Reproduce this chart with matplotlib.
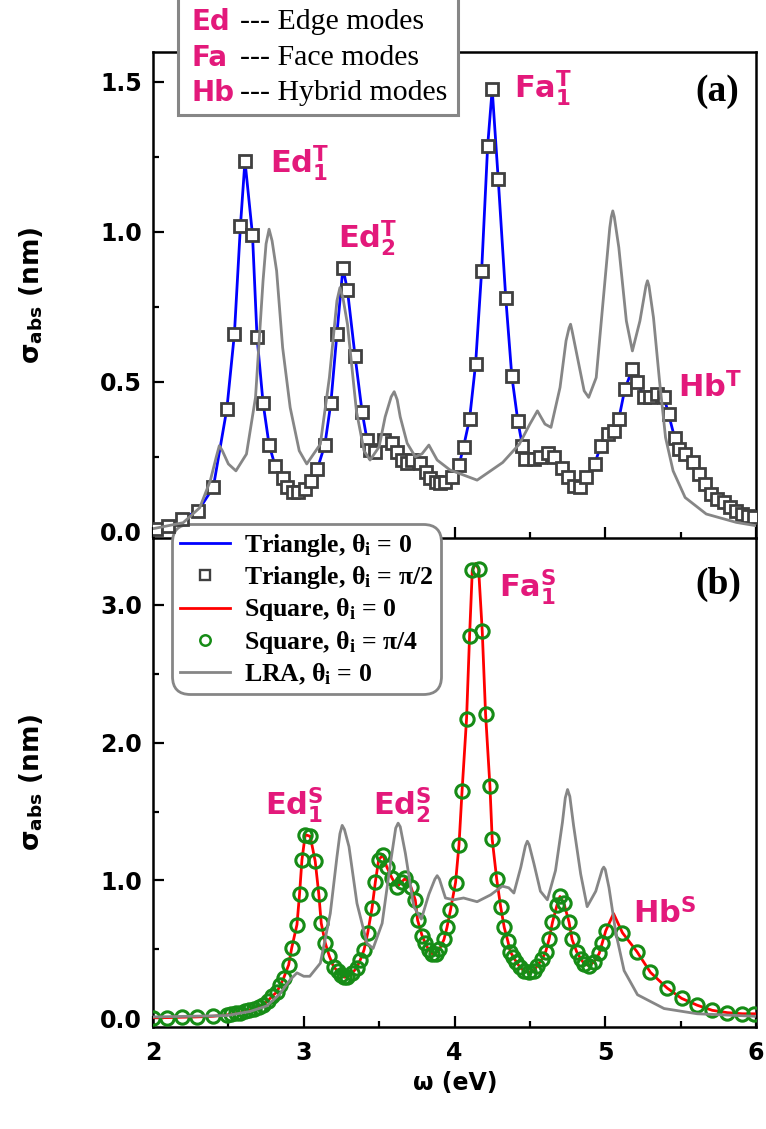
import numpy as np
import matplotlib
matplotlib.use('Agg')
import matplotlib.pyplot as plt
from matplotlib.patches import Rectangle
from matplotlib.lines import Line2D
from matplotlib.ticker import MultipleLocator, FormatStrFormatter

plt.rcParams['mathtext.fontset'] = 'custom'
plt.rcParams['mathtext.bf'] = 'DejaVu Sans:bold'
plt.rcParams['mathtext.rm'] = 'Liberation Serif:bold'
plt.rcParams['mathtext.it'] = 'Liberation Serif:italic'
plt.rcParams['mathtext.sf'] = 'DejaVu Sans'

# ---------------- Panel (a): triangle ----------------
tri_perp_x = [2.02, 2.10, 2.19, 2.30, 2.40, 2.49, 2.54, 2.58, 2.61, 2.66, 2.69, 2.73, 2.77, 2.81,
              2.86, 2.89, 2.93, 2.96, 3.01, 3.05, 3.09, 3.14, 3.18, 3.22, 3.26, 3.29, 3.34, 3.387,
              3.42, 3.44, 3.475, 3.53, 3.586, 3.62, 3.65, 3.686, 3.72, 3.774, 3.81, 3.84, 3.874,
              3.907, 3.94, 3.985, 4.03, 4.06, 4.10, 4.14, 4.18, 4.22, 4.25, 4.29, 4.34, 4.38, 4.42,
              4.45, 4.47, 4.53, 4.57, 4.62, 4.66, 4.71, 4.75, 4.79, 4.83, 4.87, 4.93, 4.97, 5.02,
              5.06, 5.09, 5.13, 5.18, 5.21, 5.26, 5.30, 5.34, 5.39, 5.42, 5.46, 5.49, 5.53, 5.58,
              5.62, 5.66, 5.70, 5.74, 5.79, 5.83, 5.87, 5.91, 5.95, 5.99]
tri_perp_y = [0.01, 0.02, 0.043, 0.07, 0.148, 0.41, 0.66, 1.02, 1.237, 0.99, 0.65, 0.43, 0.29, 0.22,
              0.18, 0.148, 0.131, 0.131, 0.142, 0.168, 0.209, 0.29, 0.43, 0.66, 0.88, 0.805, 0.587, 0.40,
              0.306, 0.272, 0.267, 0.306, 0.295, 0.267, 0.239, 0.228, 0.239, 0.228, 0.20, 0.178, 0.167,
              0.161, 0.167, 0.183, 0.222, 0.283, 0.376, 0.56, 0.87, 1.287, 1.476, 1.176, 0.78, 0.52, 0.37,
              0.287, 0.242, 0.242, 0.248, 0.264, 0.248, 0.214, 0.181, 0.153, 0.15, 0.181, 0.226, 0.287, 0.326,
              0.337, 0.376, 0.476, 0.542, 0.498, 0.448, 0.448, 0.459, 0.448, 0.392, 0.314, 0.276, 0.259, 0.231,
              0.192, 0.159, 0.126, 0.109, 0.098, 0.081, 0.07, 0.059, 0.053, 0.048]
# Triangle, theta = 0 (blue line) coincides with the squares
tri_zero_x = tri_perp_x
tri_zero_y = tri_perp_y

lra_a_x = [2.00, 2.20, 2.31, 2.38, 2.42, 2.44, 2.46, 2.50, 2.55, 2.62, 2.68, 2.73, 2.75, 2.77, 2.79,
           2.82, 2.86, 2.91, 2.97, 3.02, 3.11, 3.17, 3.22, 3.24, 3.26, 3.29, 3.35, 3.40, 3.44, 3.50,
           3.54, 3.58, 3.60, 3.62, 3.64, 3.686, 3.74, 3.785, 3.83, 3.885, 3.97, 4.06, 4.15, 4.32, 4.43,
           4.50, 4.55, 4.60, 4.64, 4.70, 4.74, 4.76, 4.77, 4.78, 4.82, 4.86, 4.89, 4.94, 4.98, 5.03,
           5.04, 5.05, 5.06, 5.09, 5.14, 5.18, 5.23, 5.27, 5.28, 5.29, 5.32, 5.36, 5.40, 5.45, 5.53,
           5.67, 5.87, 6.00]
lra_a_y = [0.01, 0.03, 0.08, 0.17, 0.25, 0.287, 0.27, 0.226, 0.203, 0.259, 0.448, 0.837, 0.96, 1.009, 0.97,
           0.87, 0.614, 0.414, 0.27, 0.226, 0.292, 0.514, 0.77, 0.814, 0.78, 0.692, 0.40, 0.27, 0.239, 0.283,
           0.383, 0.45, 0.467, 0.44, 0.383, 0.295, 0.25, 0.26, 0.289, 0.239, 0.206, 0.189, 0.172, 0.231, 0.292,
           0.359, 0.403, 0.359, 0.348, 0.481, 0.637, 0.68, 0.692, 0.67, 0.57, 0.47, 0.448, 0.514, 0.737, 1.014,
           1.05, 1.07, 1.05, 0.948, 0.703, 0.603, 0.703, 0.82, 0.837, 0.82, 0.714, 0.503, 0.314, 0.203, 0.114,
           0.059, 0.031, 0.02]

# ---------------- Panel (b): square ----------------
sq_diag_x = [2.00, 2.09, 2.19, 2.29, 2.40, 2.49, 2.52, 2.55, 2.58, 2.61, 2.64, 2.67, 2.70, 2.73, 2.76,
             2.79, 2.82, 2.845, 2.866, 2.90, 2.92, 2.955, 2.972, 2.988, 3.01, 3.043, 3.076, 3.10, 3.116,
             3.143, 3.17, 3.198, 3.225, 3.247, 3.27, 3.29, 3.32, 3.35, 3.375, 3.40, 3.424, 3.453, 3.475,
             3.497, 3.526, 3.55, 3.586, 3.62, 3.65, 3.674, 3.71, 3.74, 3.755, 3.785, 3.807, 3.83, 3.85,
             3.874, 3.90, 3.93, 3.95, 3.973, 4.007, 4.03, 4.05, 4.08, 4.10, 4.118, 4.16, 4.184, 4.206,
             4.235, 4.25, 4.28, 4.306, 4.33, 4.354, 4.37, 4.39, 4.41, 4.434, 4.46, 4.494, 4.527, 4.55,
             4.583, 4.605, 4.627, 4.65, 4.68, 4.70, 4.726, 4.76, 4.78, 4.81, 4.837, 4.86, 4.89, 4.926,
             4.96, 4.98, 5.003, 5.114, 5.21, 5.30, 5.41, 5.506, 5.61, 5.71, 5.81, 5.91, 5.99]
sq_diag_y = [0.005, 0.005, 0.008, 0.01, 0.015, 0.025, 0.03, 0.035, 0.04, 0.05, 0.06, 0.07, 0.085, 0.10, 0.125,
             0.16, 0.19, 0.24, 0.29, 0.388, 0.51, 0.68, 0.90, 1.15, 1.333, 1.32, 1.14, 0.90, 0.69,
             0.545, 0.45, 0.375, 0.34, 0.315, 0.298, 0.30, 0.327, 0.364, 0.424, 0.497, 0.618, 0.80, 0.99,
             1.15, 1.187, 1.10, 1.016, 0.955, 0.99, 1.016, 0.955, 0.858, 0.713, 0.60, 0.543, 0.495, 0.47,
             0.47, 0.50, 0.572, 0.659, 0.784, 0.985, 1.26, 1.648, 2.174, 2.775, 3.25, 3.26, 2.81, 2.21,
             1.686, 1.30, 1.01, 0.81, 0.659, 0.559, 0.484, 0.446, 0.409, 0.371, 0.346, 0.333, 0.346, 0.383,
             0.433, 0.484, 0.572, 0.697, 0.822, 0.884, 0.834, 0.697, 0.572, 0.484, 0.433, 0.396, 0.383, 0.409,
             0.471, 0.546, 0.634, 0.621, 0.484, 0.333, 0.22, 0.145, 0.095, 0.058, 0.041, 0.033, 0.033]
# Square, theta = 0 (red line): follows the circles, plus its own peak points
sq_zero_extra_x = [4.14, 5.055]
sq_zero_extra_y = [3.30, 0.76]

lra_b_x = [2.00, 2.49, 2.645, 2.755, 2.84, 2.91, 2.955, 3.00, 3.04, 3.11, 3.176, 3.22, 3.24, 3.255,
           3.27, 3.30, 3.353, 3.42, 3.46, 3.52, 3.575, 3.61, 3.626, 3.64, 3.674, 3.73, 3.78, 3.83,
           3.87, 3.885, 3.90, 3.94, 3.995, 4.06, 4.15, 4.24, 4.317, 4.36, 4.394, 4.44, 4.47, 4.483,
           4.495, 4.527, 4.57, 4.616, 4.67, 4.716, 4.735, 4.75, 4.765, 4.79, 4.837, 4.88, 4.937, 4.98,
           4.99, 5.00, 5.025, 5.07, 5.125, 5.214, 5.39, 5.61, 5.99]
lra_b_y = [0.01, 0.02, 0.05, 0.09, 0.175, 0.28, 0.33, 0.305, 0.305, 0.40, 0.761, 1.17, 1.34, 1.40,
           1.37, 1.246, 0.834, 0.543, 0.507, 0.689, 1.125, 1.38, 1.416, 1.39, 1.198, 0.81, 0.72, 0.90,
           1.01, 1.035, 1.01, 0.873, 0.86, 0.873, 0.846, 0.896, 0.959, 0.947, 0.909, 1.097, 1.25, 1.285,
           1.26, 1.122, 0.922, 0.86, 1.072, 1.422, 1.60, 1.66, 1.61, 1.398, 1.047, 0.81, 0.922, 1.08,
           1.097, 1.08, 0.947, 0.621, 0.346, 0.171, 0.071, 0.033, 0.015]

legend_labels = ['Triangle, θ$_\\mathrm{i}$ = 0', 'Triangle, θ$_\\mathrm{i}$ = π/2',
                 'Square, θ$_\\mathrm{i}$ = 0', 'Square, θ$_\\mathrm{i}$ = π/4',
                 'LRA, θ$_\\mathrm{i}$ = 0']
mode_keys = ['Ed', 'Fa', 'Hb']
mode_names = ['--- Edge modes', '--- Face modes', '--- Hybrid modes']

MAG = '#E3197B'
GRAY = '#868686'
SQE = '#404040'
GREEN = '#168C16'

fig = plt.figure(figsize=(7.66, 11.29), dpi=100)
W, H = 766.0, 1129.0
L, R = 153 / W, 756 / W
ax_a = fig.add_axes([L, (H - 538) / H, R - L, (538 - 52) / H], zorder=2)
ax_b = fig.add_axes([L, (H - 1027) / H, R - L, (1027 - 538) / H], zorder=1)
ax_a.patch.set_alpha(0)

# panel (a)
ax_a.plot(tri_zero_x, tri_zero_y, color='#0000FF', lw=2.0, zorder=6)
ax_a.plot(tri_perp_x, tri_perp_y, ls='none', marker='s', ms=8.8, mfc='white', mec=SQE, mew=2.0, zorder=7)
ax_a.plot(lra_a_x, lra_a_y, color=GRAY, lw=2.0, zorder=8)

# panel (b)
red_pts = sorted(zip(list(sq_diag_x) + sq_zero_extra_x, list(sq_diag_y) + sq_zero_extra_y))
ax_b.plot([p[0] for p in red_pts], [p[1] for p in red_pts], color='#FF0000', lw=2.0, zorder=3)
ax_b.plot(sq_diag_x, sq_diag_y, ls='none', marker='o', ms=9.6, mfc='none', mec=GREEN, mew=2.2, zorder=4)
ax_b.plot(lra_b_x, lra_b_y, color=GRAY, lw=2.0, zorder=5)

for ax in (ax_a, ax_b):
    ax.set_xlim(2, 6)
    ax.xaxis.set_major_locator(MultipleLocator(1))
    ax.xaxis.set_minor_locator(MultipleLocator(0.5))
    ax.tick_params(which='both', direction='in', width=1.6, top=False, right=False)
    ax.tick_params(which='major', length=8)
    ax.tick_params(which='minor', length=4.5)
    ax.tick_params(axis='y', pad=8)
    ax.tick_params(axis='x', pad=10)
    ax.yaxis.set_major_formatter(FormatStrFormatter('%.1f'))
    for sp in ax.spines.values():
        sp.set_linewidth(1.8)

ax_a.set_ylim(-0.021, 1.6)
ax_a.yaxis.set_major_locator(MultipleLocator(0.5))
ax_a.yaxis.set_minor_locator(MultipleLocator(0.25))
ax_a.tick_params(axis='x', labelbottom=False)
ax_a.spines['bottom'].set_visible(False)

ax_b.set_ylim(-0.063, 3.485)
ax_b.yaxis.set_major_locator(MultipleLocator(1))
ax_b.yaxis.set_minor_locator(MultipleLocator(0.5))

for ax in (ax_a, ax_b):
    for lab in ax.get_xticklabels() + ax.get_yticklabels():
        lab.set_fontfamily('DejaVu Sans')
        lab.set_fontweight('bold')
        lab.set_fontsize(17)

# axis labels
for py in (295, 782):
    fig.text(31 / W, 1 - py / H, 'σ$_\\mathbf{abs}$ (nm)', rotation=90, ha='center', va='center',
             fontfamily='DejaVu Sans', fontweight='bold', fontsize=19)
fig.text(455 / W, 1 - 1083 / H, 'ω (eV)', ha='center', va='center',
         fontfamily='DejaVu Sans', fontweight='bold', fontsize=17)

# panel tags
ax_a.text(0.935, 0.918, '(a)', transform=ax_a.transAxes, ha='center', va='center',
          fontfamily='Liberation Serif', fontweight='bold', fontsize=27)
ax_b.text(0.937, 0.906, '(b)', transform=ax_b.transAxes, ha='center', va='center',
          fontfamily='Liberation Serif', fontweight='bold', fontsize=27)

# mode annotations
ann = dict(color=MAG, fontsize=22, ha='left', va='baseline', zorder=9)
ax_a.text(2.777, 1.196, r'$\mathbf{Ed}_{\mathbf{1}}^{\mathbf{T}}$', **ann)
ax_a.text(3.229, 0.946, r'$\mathbf{Ed}_{\mathbf{2}}^{\mathbf{T}}$', **ann)
ax_a.text(4.392, 1.446, r'$\mathbf{Fa}_{\mathbf{1}}^{\mathbf{T}}$', **ann)
ax_a.text(5.482, 0.449, r'$\mathbf{Hb}^{\mathbf{T}}$', **ann)
ax_b.text(2.744, 1.478, r'$\mathbf{Ed}_{\mathbf{1}}^{\mathbf{S}}$', **ann)
ax_b.text(3.462, 1.478, r'$\mathbf{Ed}_{\mathbf{2}}^{\mathbf{S}}$', **ann)
ax_b.text(4.292, 3.057, r'$\mathbf{Fa}_{\mathbf{1}}^{\mathbf{S}}$', **ann)
ax_b.text(5.183, 0.687, r'$\mathbf{Hb}^{\mathbf{S}}$', **ann)

# series legend
handles = [Line2D([], [], color='#0000FF', lw=2.0),
           Line2D([], [], ls='none', marker='s', ms=7.5, mfc='white', mec=SQE, mew=1.7),
           Line2D([], [], color='#FF0000', lw=2.0),
           Line2D([], [], ls='none', marker='o', ms=7.5, mfc='none', mec=GREEN, mew=1.8),
           Line2D([], [], color=GRAY, lw=2.0)]
leg = ax_a.legend(handles, legend_labels, loc='upper left',
                  bbox_to_anchor=(172 / W, 1 - 524 / H), bbox_transform=fig.transFigure,
                  borderaxespad=0, prop={'family': 'Liberation Serif', 'weight': 'bold', 'size': 18.5},
                  fancybox=True, edgecolor=GRAY, framealpha=1, handlelength=1.95,
                  handletextpad=0.55, labelspacing=0.21, borderpad=0.3)
leg.get_frame().set_linewidth(2)
leg.get_frame().set_boxstyle('round,pad=0,rounding_size=0.7')
leg.set_zorder(5)

# mode-name box (top)
fig.add_artist(Rectangle((178 / W, 1 - 115 / H), 280 / W, 0.2, transform=fig.transFigure,
                         fc='white', ec=GRAY, lw=2.2, zorder=10))
rows_py = [22, 58, 93]
for key, name, py in zip(mode_keys, mode_names, rows_py):
    fig.text(192 / W, 1 - py / H, key, color=MAG, fontfamily='DejaVu Sans', fontweight='bold',
             fontsize=20, ha='left', va='center', zorder=11)
    fig.text(240 / W, 1 - py / H, name, color='black', fontfamily='Liberation Serif',
             fontsize=21.5, ha='left', va='center', zorder=11)

fig.savefig('out.png', dpi=100)
